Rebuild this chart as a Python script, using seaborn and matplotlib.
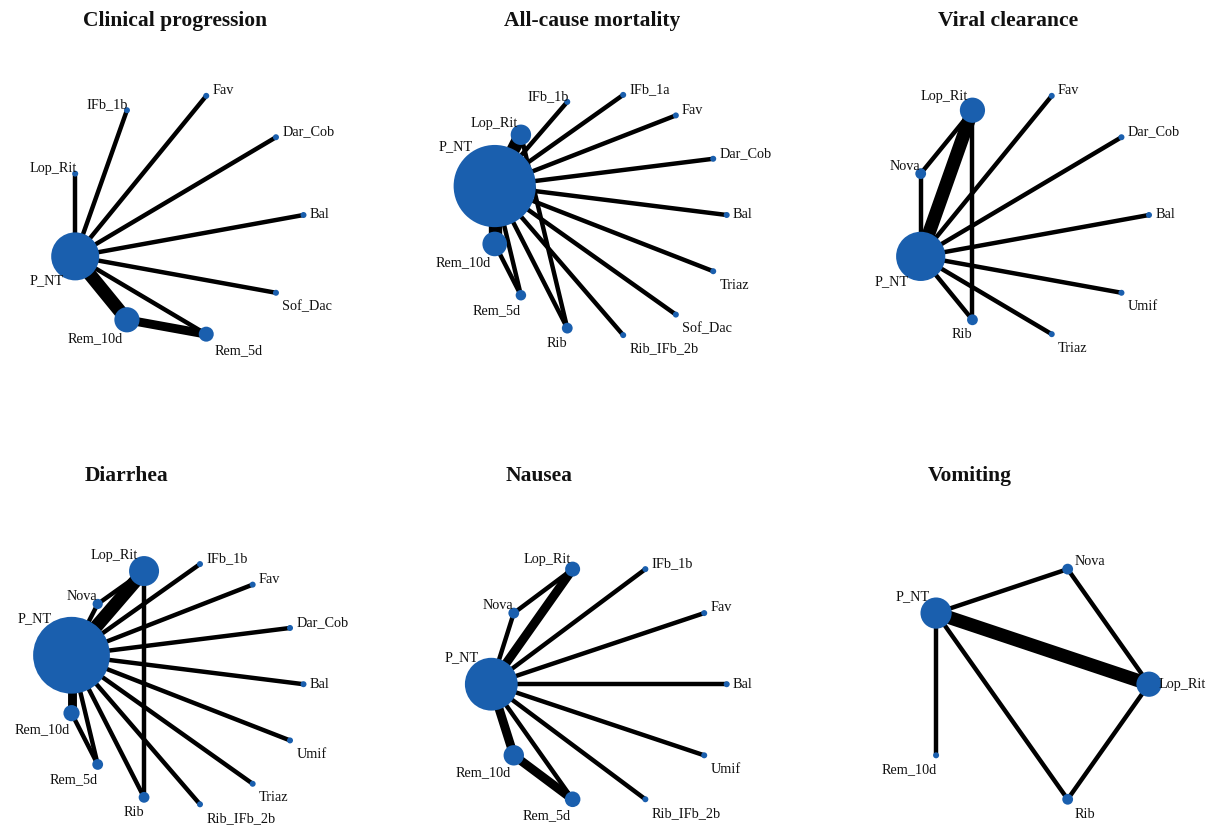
import numpy as np
import pandas as pd
import matplotlib
matplotlib.use("Agg")
import matplotlib.pyplot as plt
import seaborn as sns

# ------------------------------------------------------------------
# Network data for each outcome
# (treatments listed alphabetically; node weight = relative node size,
#  studies = number of trials behind each direct comparison)
# ------------------------------------------------------------------
titles = ["Clinical progression", "All-cause mortality", "Viral clearance",
          "Diarrhea", "Nausea", "Vomiting"]

treat_clin = ["Bal", "Dar_Cob", "Fav", "IFb_1b", "Lop_Rit", "P_NT",
              "Rem_10d", "Rem_5d", "Sof_Dac"]
weight_clin = [1, 1, 1, 1, 1, 8.0, 4.2, 2.5, 1]
edges_clin = [("P_NT", "Bal"), ("P_NT", "Dar_Cob"), ("P_NT", "Fav"),
              ("P_NT", "IFb_1b"), ("P_NT", "Lop_Rit"), ("P_NT", "Sof_Dac"),
              ("P_NT", "Rem_10d"), ("P_NT", "Rem_5d"), ("Rem_10d", "Rem_5d")]
studies_clin = [1, 1, 1, 1, 1, 1, 3, 1, 2]

treat_mort = ["Bal", "Dar_Cob", "Fav", "IFb_1a", "IFb_1b", "Lop_Rit", "P_NT",
              "Rem_10d", "Rem_5d", "Rib", "Rib_IFb_2b", "Sof_Dac", "Triaz"]
weight_mort = [1, 1, 1, 1, 1, 3.4, 13.7, 4.1, 1.75, 1.8, 1, 1, 1]
edges_mort = [("P_NT", "Bal"), ("P_NT", "Dar_Cob"), ("P_NT", "Fav"),
              ("P_NT", "IFb_1a"), ("P_NT", "IFb_1b"), ("P_NT", "Lop_Rit"),
              ("P_NT", "Rem_10d"), ("P_NT", "Rem_5d"), ("P_NT", "Rib"),
              ("P_NT", "Rib_IFb_2b"), ("P_NT", "Sof_Dac"), ("P_NT", "Triaz"),
              ("Lop_Rit", "Rib"), ("Rem_10d", "Rem_5d")]
studies_mort = [1, 1, 1, 1, 1, 3, 3, 1, 1, 1, 1, 1, 1, 1]

treat_vir = ["Bal", "Dar_Cob", "Fav", "Lop_Rit", "Nova", "P_NT", "Rib",
             "Triaz", "Umif"]
weight_vir = [1, 1, 1, 4.2, 1.8, 8.2, 1.8, 1, 1]
edges_vir = [("P_NT", "Bal"), ("P_NT", "Dar_Cob"), ("P_NT", "Fav"),
             ("P_NT", "Lop_Rit"), ("P_NT", "Nova"), ("P_NT", "Rib"),
             ("P_NT", "Triaz"), ("P_NT", "Umif"), ("Nova", "Lop_Rit"),
             ("Lop_Rit", "Rib")]
studies_vir = [1, 1, 1, 3, 1, 1, 1, 1, 1, 1]

treat_diar = ["Bal", "Dar_Cob", "Fav", "IFb_1b", "Lop_Rit", "Nova", "P_NT",
              "Rem_10d", "Rem_5d", "Rib", "Rib_IFb_2b", "Triaz", "Umif"]
weight_diar = [1, 1, 1, 1, 5.0, 1.7, 12.8, 2.7, 1.8, 1.8, 1, 1, 1]
edges_diar = [("P_NT", "Bal"), ("P_NT", "Dar_Cob"), ("P_NT", "Fav"),
              ("P_NT", "IFb_1b"), ("P_NT", "Lop_Rit"), ("P_NT", "Nova"),
              ("P_NT", "Rem_10d"), ("P_NT", "Rem_5d"), ("P_NT", "Rib"),
              ("P_NT", "Rib_IFb_2b"), ("P_NT", "Triaz"), ("P_NT", "Umif"),
              ("Nova", "Lop_Rit"), ("Lop_Rit", "Rib"), ("Rem_10d", "Rem_5d")]
studies_diar = [1, 1, 1, 1, 3, 1, 2, 1, 1, 1, 1, 1, 1, 1, 1]

treat_naus = ["Bal", "Fav", "IFb_1b", "Lop_Rit", "Nova", "P_NT", "Rem_10d",
              "Rem_5d", "Rib_IFb_2b", "Umif"]
weight_naus = [1, 1, 1, 2.5, 1.8, 8.8, 3.4, 2.6, 1, 1]
edges_naus = [("P_NT", "Bal"), ("P_NT", "Fav"), ("P_NT", "IFb_1b"),
              ("P_NT", "Lop_Rit"), ("P_NT", "Nova"), ("P_NT", "Rem_10d"),
              ("P_NT", "Rem_5d"), ("P_NT", "Rib_IFb_2b"), ("P_NT", "Umif"),
              ("Nova", "Lop_Rit"), ("Rem_10d", "Rem_5d")]
studies_naus = [1, 1, 1, 2, 1, 2, 1, 1, 1, 1, 2]

treat_vom = ["Lop_Rit", "Nova", "P_NT", "Rem_10d", "Rib"]
weight_vom = [4.2, 1.8, 5.2, 1, 1.8]
edges_vom = [("P_NT", "Lop_Rit"), ("P_NT", "Nova"), ("P_NT", "Rem_10d"),
             ("P_NT", "Rib"), ("Nova", "Lop_Rit"), ("Lop_Rit", "Rib")]
studies_vom = [3, 1, 1, 1, 1, 1]

networks = [
    (treat_clin, weight_clin, edges_clin, studies_clin),
    (treat_mort, weight_mort, edges_mort, studies_mort),
    (treat_vir, weight_vir, edges_vir, studies_vir),
    (treat_diar, weight_diar, edges_diar, studies_diar),
    (treat_naus, weight_naus, edges_naus, studies_naus),
    (treat_vom, weight_vom, edges_vom, studies_vom),
]

# ------------------------------------------------------------------
# Styling / layout
# ------------------------------------------------------------------
W, H, DPI = 1222, 825, 100
NODE_COLOR = "#1a5fae"
UNIT_DIAM_PX = 6.0          # diameter of a weight-1 node (pixels)
LW_PER_STUDY = 3.2          # edge width per study (points)
RX, RY = 117.7, 121.0       # circle radius in pixels (x, y)

col_bounds = [0, 407, 815, 1222]
row_bounds = [0, 440, 825]
centers_x = [185.8, 609.0, 1031.3]
centers_y = [215.0, 684.2]
title_x = [175.5, 592.0, 1008.3, 127.0, 538.7, 970.0]
title_base_y = [25.7, 481.0]

sns.set_theme(style="white")
plt.rcParams["font.family"] = ["Liberation Serif", "DejaVu Serif"]

fig = plt.figure(figsize=(W / DPI, H / DPI), dpi=DPI)
fig.patch.set_facecolor("white")

for k, (treats, weights, edges, studies) in enumerate(networks):
    row, col = divmod(k, 3)
    left, right = col_bounds[col], col_bounds[col + 1]
    top, bottom = row_bounds[row], row_bounds[row + 1]
    cx, cy = centers_x[col], centers_y[row]

    ax = fig.add_axes([left / W, 1 - bottom / H, (right - left) / W, (bottom - top) / H])
    ax.set_xlim((left - cx) / RX, (right - cx) / RX)
    ax.set_ylim((cy - bottom) / RY, (cy - top) / RY)
    ax.axis("off")

    # circular layout, alphabetical order counter-clockwise from 3 o'clock
    n = len(treats)
    theta = 2 * np.pi * np.arange(n) / n
    nodes = pd.DataFrame({"treat": treats, "x": np.cos(theta), "y": np.sin(theta),
                          "w": weights})
    pos = nodes.set_index("treat")

    # edges, width proportional to number of studies
    rows = []
    for e, ((a, b), s) in enumerate(zip(edges, studies)):
        rows.append({"edge": e, "x": pos.loc[a, "x"], "y": pos.loc[a, "y"], "studies": s})
        rows.append({"edge": e, "x": pos.loc[b, "x"], "y": pos.loc[b, "y"], "studies": s})
    edf = pd.DataFrame(rows)
    sizes_lw = {s: s * LW_PER_STUDY for s in sorted(edf["studies"].unique())}
    sns.lineplot(data=edf, x="x", y="y", units="edge", estimator=None, sort=False,
                 size="studies", sizes=sizes_lw, color="black", legend=False,
                 solid_capstyle="round", ax=ax, zorder=1)

    # nodes (diameter proportional to weight)
    sizes_area = {w: (w * UNIT_DIAM_PX * 72 / DPI) ** 2 for w in nodes["w"].unique()}
    sns.scatterplot(data=nodes, x="x", y="y", size="w", sizes=sizes_area,
                    color=NODE_COLOR, linewidth=0, legend=False, ax=ax, zorder=3)
    ax.set_xlabel("")
    ax.set_ylabel("")

    # treatment labels, placed outside each node by quadrant
    for _, r in nodes.iterrows():
        c, s = r["x"], r["y"]
        rad = r["w"] * UNIT_DIAM_PX / 2
        if c >= 0:
            ha, dx = "left", 5 + 0.4 * rad
        else:
            ha, dx = "right", -(0.6 * rad - 3)
        if s > 0:
            va, dy = "baseline", 0.9 * rad - 1
        elif s < 0:
            va, dy = "top", -(6 + 0.5 * rad)
        else:
            va, dy = "center", 0
        ax.annotate(r["treat"], (c, s), xytext=(dx * 72 / DPI, dy * 72 / DPI),
                    textcoords="offset points", ha=ha, va=va, fontsize=10.3,
                    color="#111111", zorder=4)

    fig.text(title_x[k] / W, 1 - title_base_y[row] / H, titles[k], ha="center",
             va="baseline", fontsize=15.5, fontweight="bold", color="#111111")

fig.savefig("out.png", dpi=DPI, facecolor="white")
